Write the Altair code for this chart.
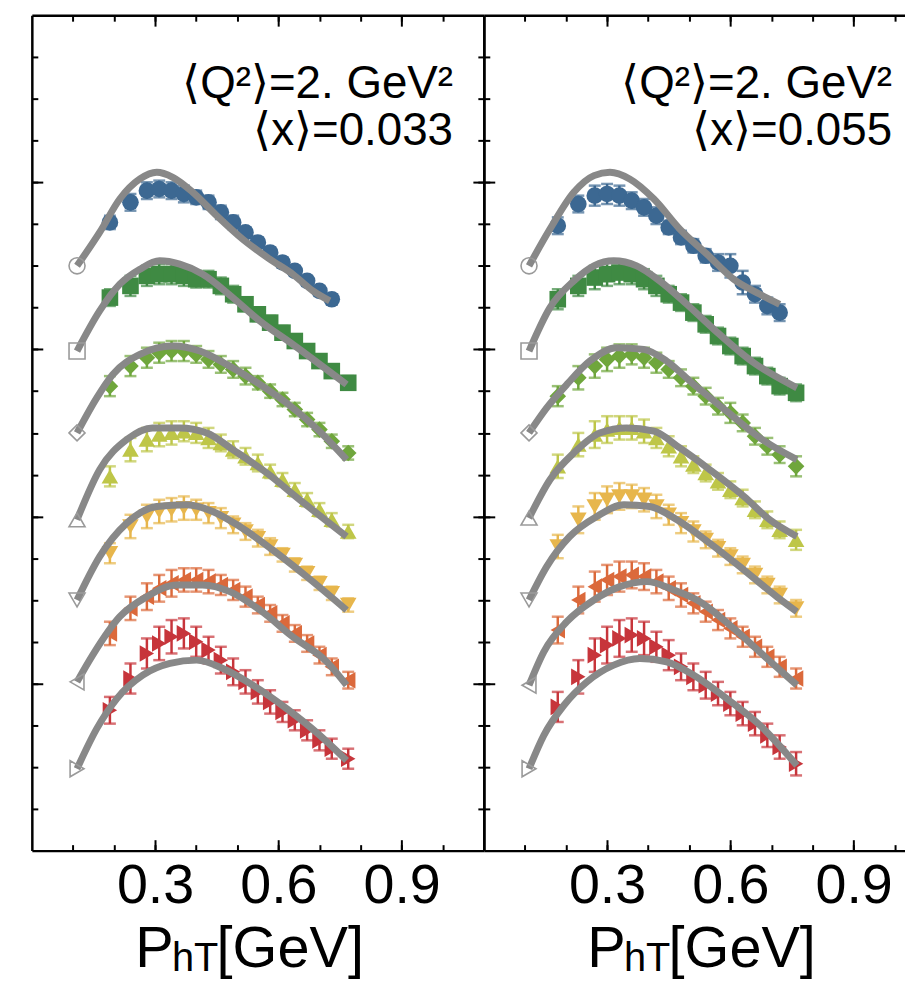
import altair as alt
import pandas as pd

FONT = "Liberation Sans"

SERIES = ["z1", "z2", "z3", "z4", "z5", "z6", "z7"]
COLORS = ["#3c6892", "#3f8a43", "#6fa63c", "#bec648", "#e7b64c", "#db693b", "#c7353b"]
SHAPES = ["circle", "square", "diamond", "triangle-up", "triangle-down",
          "triangle-left", "triangle-right"]

PANELS = ["left", "right"]
ANNOT_Q = ["⟨Q²⟩=2. GeV²", "⟨Q²⟩=2. GeV²"]
ANNOT_X = ["⟨x⟩=0.033", "⟨x⟩=0.055"]
TITLE_MAIN = "P"
TITLE_SUB = "hT"
TITLE_UNIT = "[GeV]"

X_TICKS_MAJOR = [0.3, 0.6, 0.9]
X_TICKS_MINOR = [0.1, 0.2, 0.3, 0.4, 0.5, 0.6, 0.7, 0.8, 0.9, 1.0]
Y_TICKS_MAJOR = [1, 2, 3, 4]
Y_TICKS_MINOR = [0.25, 0.5, 0.75, 1, 1.25, 1.5, 1.75, 2, 2.25, 2.5, 2.75, 3,
                 3.25, 3.5, 3.75, 4, 4.25, 4.5, 4.75]

# ---------------- left panel (<x>=0.033) ----------------
LEFT_DATA_X = [0.19, 0.24, 0.28, 0.31, 0.34, 0.37, 0.40, 0.43, 0.46, 0.49,
               0.52, 0.55, 0.58, 0.61, 0.64, 0.67, 0.70, 0.73, 0.77]
LEFT_DATA_Y = [
    [3.76, 3.88, 3.95, 3.96, 3.95, 3.93, 3.91, 3.88, 3.82, 3.76, 3.70, 3.64, 3.58, 3.52, 3.47, 3.41, 3.35, 3.30],
    [3.31, 3.38, 3.44, 3.45, 3.45, 3.44, 3.42, 3.42, 3.38, 3.33, 3.27, 3.21, 3.16, 3.10, 3.05, 2.99, 2.93, 2.87, 2.80],
    [2.78, 2.90, 2.95, 2.98, 2.99, 2.99, 2.97, 2.94, 2.91, 2.88, 2.84, 2.80, 2.75, 2.70, 2.64, 2.58, 2.52, 2.45, 2.38],
    [2.24, 2.40, 2.46, 2.49, 2.50, 2.51, 2.50, 2.47, 2.44, 2.40, 2.36, 2.32, 2.27, 2.22, 2.16, 2.10, 2.04, 1.98, 1.91],
    [1.78, 1.94, 2.00, 2.03, 2.04, 2.05, 2.04, 2.02, 1.99, 1.95, 1.91, 1.87, 1.82, 1.77, 1.71, 1.66, 1.60, 1.54, 1.47],
    [1.30, 1.45, 1.52, 1.57, 1.60, 1.62, 1.62, 1.61, 1.59, 1.56, 1.52, 1.47, 1.42, 1.36, 1.30, 1.24, 1.17, 1.10, 1.02],
    [0.84, 1.03, 1.18, 1.24, 1.28, 1.30, 1.25, 1.20, 1.14, 1.07, 1.01, 0.95, 0.89, 0.83, 0.78, 0.72, 0.66, 0.61, 0.55],
]
LEFT_DATA_ERR = [
    [0.04, 0.05, 0.05, 0.05, 0.05, 0.05, 0.04, 0.04, 0.04, 0.04, 0.03, 0.03, 0.03, 0.03, 0.03, 0.03, 0.03, 0.03],
    [0.05, 0.06, 0.06, 0.06, 0.06, 0.06, 0.05, 0.05, 0.05, 0.05, 0.04, 0.04, 0.04, 0.04, 0.04, 0.04, 0.04, 0.04, 0.04],
    [0.06, 0.06, 0.06, 0.06, 0.06, 0.06, 0.05, 0.05, 0.05, 0.05, 0.05, 0.04, 0.04, 0.04, 0.04, 0.04, 0.04, 0.04, 0.04],
    [0.06, 0.07, 0.07, 0.07, 0.07, 0.06, 0.06, 0.06, 0.05, 0.05, 0.05, 0.05, 0.04, 0.04, 0.04, 0.04, 0.04, 0.04, 0.04],
    [0.06, 0.07, 0.07, 0.07, 0.07, 0.07, 0.06, 0.06, 0.06, 0.05, 0.05, 0.05, 0.05, 0.04, 0.04, 0.04, 0.04, 0.04, 0.04],
    [0.07, 0.07, 0.08, 0.08, 0.08, 0.07, 0.07, 0.07, 0.06, 0.06, 0.06, 0.05, 0.05, 0.05, 0.05, 0.05, 0.05, 0.05, 0.05],
    [0.08, 0.09, 0.09, 0.10, 0.10, 0.09, 0.09, 0.08, 0.08, 0.08, 0.07, 0.07, 0.07, 0.06, 0.06, 0.06, 0.06, 0.06, 0.06],
]
LEFT_CURVE_X = [
    [0.11, 0.165, 0.214, 0.263, 0.304, 0.343, 0.392, 0.450, 0.513, 0.579, 0.635, 0.684, 0.725],
    [0.11, 0.165, 0.214, 0.263, 0.311, 0.360, 0.416, 0.489, 0.555, 0.635, 0.766],
    [0.11, 0.158, 0.197, 0.263, 0.343, 0.409, 0.474, 0.555, 0.635, 0.700, 0.766],
    [0.11, 0.165, 0.231, 0.294, 0.360, 0.426, 0.489, 0.572, 0.652, 0.766],
    [0.11, 0.165, 0.231, 0.304, 0.377, 0.440, 0.506, 0.586, 0.669, 0.766],
    [0.11, 0.148, 0.214, 0.280, 0.353, 0.416, 0.482, 0.555, 0.635, 0.718, 0.766],
    [0.11, 0.158, 0.207, 0.270, 0.336, 0.401, 0.465, 0.538, 0.620, 0.701, 0.766],
]
LEFT_CURVE_Y = [
    [3.50, 3.70, 3.90, 4.02, 4.06, 4.03, 3.94, 3.80, 3.66, 3.54, 3.45, 3.35, 3.29],
    [2.99, 3.23, 3.39, 3.48, 3.53, 3.51, 3.45, 3.31, 3.17, 3.03, 2.79],
    [2.50, 2.71, 2.85, 2.97, 3.02, 2.99, 2.91, 2.79, 2.65, 2.51, 2.34],
    [1.98, 2.28, 2.46, 2.53, 2.53, 2.50, 2.40, 2.26, 2.10, 1.88],
    [1.50, 1.76, 1.96, 2.06, 2.07, 2.03, 1.94, 1.80, 1.64, 1.44],
    [1.01, 1.17, 1.40, 1.52, 1.59, 1.59, 1.55, 1.44, 1.28, 1.13, 0.99],
    [0.49, 0.73, 0.91, 1.05, 1.12, 1.14, 1.09, 0.99, 0.85, 0.69, 0.54],
]

# ---------------- right panel (<x>=0.055) ----------------
RIGHT_DATA_X = [0.18, 0.23, 0.27, 0.30, 0.33, 0.36, 0.39, 0.42, 0.45, 0.48,
                0.51, 0.54, 0.57, 0.60, 0.63, 0.66, 0.69, 0.72, 0.76]
RIGHT_DATA_Y = [
    [3.74, 3.87, 3.92, 3.93, 3.92, 3.89, 3.85, 3.80, 3.73, 3.67, 3.62, 3.56, 3.52, 3.50, 3.40, 3.33, 3.26, 3.22],
    [3.30, 3.38, 3.43, 3.45, 3.46, 3.45, 3.42, 3.38, 3.33, 3.28, 3.22, 3.15, 3.08, 3.02, 2.96, 2.90, 2.84, 2.78, 2.74],
    [2.72, 2.83, 2.90, 2.94, 2.96, 2.97, 2.95, 2.92, 2.88, 2.83, 2.78, 2.72, 2.66, 2.62, 2.56, 2.48, 2.42, 2.37, 2.30],
    [2.30, 2.43, 2.49, 2.52, 2.53, 2.53, 2.51, 2.47, 2.42, 2.36, 2.31, 2.26, 2.21, 2.16, 2.11, 2.04, 1.98, 1.92, 1.86],
    [1.82, 1.98, 2.06, 2.10, 2.12, 2.12, 2.10, 2.06, 2.01, 1.96, 1.91, 1.86, 1.81, 1.76, 1.71, 1.65, 1.59, 1.53, 1.45],
    [1.32, 1.50, 1.58, 1.62, 1.64, 1.65, 1.64, 1.61, 1.57, 1.53, 1.48, 1.43, 1.38, 1.33, 1.28, 1.22, 1.16, 1.10, 1.03],
    [0.86, 1.04, 1.17, 1.23, 1.27, 1.29, 1.27, 1.22, 1.17, 1.10, 1.04, 0.99, 0.94, 0.88, 0.82, 0.76, 0.69, 0.62, 0.52],
]
RIGHT_DATA_ERR = [
    [0.05, 0.05, 0.06, 0.06, 0.06, 0.05, 0.05, 0.05, 0.04, 0.04, 0.04, 0.04, 0.05, 0.07, 0.07, 0.05, 0.05, 0.05],
    [0.06, 0.06, 0.07, 0.07, 0.07, 0.06, 0.06, 0.06, 0.05, 0.05, 0.05, 0.05, 0.05, 0.05, 0.05, 0.05, 0.05, 0.05, 0.05],
    [0.06, 0.07, 0.07, 0.07, 0.07, 0.06, 0.06, 0.06, 0.05, 0.05, 0.05, 0.05, 0.05, 0.06, 0.05, 0.05, 0.05, 0.05, 0.06],
    [0.07, 0.07, 0.08, 0.08, 0.07, 0.07, 0.07, 0.06, 0.06, 0.06, 0.05, 0.05, 0.05, 0.05, 0.05, 0.05, 0.05, 0.05, 0.06],
    [0.07, 0.08, 0.08, 0.08, 0.08, 0.07, 0.07, 0.07, 0.06, 0.06, 0.06, 0.05, 0.05, 0.05, 0.05, 0.05, 0.05, 0.05, 0.05],
    [0.08, 0.08, 0.09, 0.09, 0.09, 0.08, 0.08, 0.07, 0.07, 0.07, 0.06, 0.06, 0.06, 0.06, 0.06, 0.06, 0.06, 0.06, 0.06],
    [0.09, 0.10, 0.10, 0.11, 0.11, 0.10, 0.10, 0.09, 0.09, 0.08, 0.08, 0.08, 0.07, 0.07, 0.07, 0.07, 0.07, 0.07, 0.07],
]
RIGHT_CURVE_X = [
    [0.11, 0.161, 0.219, 0.268, 0.307, 0.355, 0.414, 0.477, 0.543, 0.608, 0.672, 0.720],
    [0.11, 0.161, 0.219, 0.268, 0.316, 0.372, 0.428, 0.494, 0.560, 0.657, 0.762],
    [0.11, 0.153, 0.202, 0.258, 0.324, 0.389, 0.445, 0.511, 0.591, 0.672, 0.762],
    [0.11, 0.161, 0.219, 0.282, 0.348, 0.414, 0.477, 0.550, 0.633, 0.696, 0.762],
    [0.11, 0.153, 0.209, 0.275, 0.341, 0.404, 0.470, 0.550, 0.633, 0.713, 0.762],
    [0.11, 0.146, 0.202, 0.268, 0.331, 0.397, 0.462, 0.526, 0.608, 0.689, 0.762],
    [0.11, 0.146, 0.195, 0.251, 0.316, 0.380, 0.445, 0.511, 0.591, 0.672, 0.762],
]
RIGHT_CURVE_Y = [
    [3.50, 3.72, 3.94, 4.04, 4.06, 4.02, 3.90, 3.72, 3.57, 3.42, 3.33, 3.27],
    [2.99, 3.25, 3.41, 3.50, 3.53, 3.50, 3.41, 3.27, 3.12, 2.92, 2.77],
    [2.50, 2.65, 2.79, 2.93, 3.01, 3.00, 2.93, 2.79, 2.63, 2.47, 2.34],
    [1.99, 2.22, 2.38, 2.50, 2.53, 2.51, 2.41, 2.28, 2.12, 1.98, 1.88],
    [1.50, 1.70, 1.88, 2.00, 2.07, 2.06, 1.98, 1.84, 1.68, 1.52, 1.43],
    [0.99, 1.19, 1.37, 1.50, 1.58, 1.61, 1.56, 1.49, 1.33, 1.15, 0.99],
    [0.49, 0.69, 0.87, 1.01, 1.11, 1.15, 1.13, 1.05, 0.91, 0.75, 0.51],
]

DATA_X = [LEFT_DATA_X, RIGHT_DATA_X]
DATA_Y = [LEFT_DATA_Y, RIGHT_DATA_Y]
DATA_ERR = [LEFT_DATA_ERR, RIGHT_DATA_ERR]
CURVE_X = [LEFT_CURVE_X, RIGHT_CURVE_X]
CURVE_Y = [LEFT_CURVE_Y, RIGHT_CURVE_Y]

# ---------------- tables ----------------
pt_rows, cv_rows, st_rows = [], [], []
for p, pname in enumerate(PANELS):
    for s, sname in enumerate(SERIES):
        ys = DATA_Y[p][s]
        for k, yv in enumerate(ys):
            e = DATA_ERR[p][s][k]
            pt_rows.append({"panel": pname, "series": sname, "x": DATA_X[p][k],
                            "y": yv, "lo": yv - e, "hi": yv + e})
        for xv, yv in zip(CURVE_X[p][s], CURVE_Y[p][s]):
            cv_rows.append({"panel": pname, "series": sname, "x": xv, "y": yv})
        st_rows.append({"panel": pname, "series": sname,
                        "x": CURVE_X[p][s][0], "y": CURVE_Y[p][s][0]})
pts_df = pd.DataFrame(pt_rows)
cur_df = pd.DataFrame(cv_rows)
st_df = pd.DataFrame(st_rows)

# layout: both panels share the same px-per-unit; the right one is cut at the page edge
W_LEFT, W_RIGHT, H = 455, 424, 841
X_MAX = [1.1, 1.1 * W_RIGHT / W_LEFT]
WIDTHS = [W_LEFT, W_RIGHT]
MAJ, MIN = 11, 6
FRAME_W = 2.5


def sx(i):
    return alt.Scale(domain=[0, X_MAX[i]], nice=False, zero=False)


def sy():
    return alt.Scale(domain=[0, 5], nice=False, zero=False)


def axis(orient, values, size, labels=False):
    kw = dict(orient=orient, values=values, tickSize=size, offset=-size,
              domain=False, grid=False, ticks=True, tickColor="black",
              tickWidth=2, title=None, labels=labels)
    if labels:
        kw.update(format=".1f", labelFont=FONT, labelFontSize=56,
                  labelColor="black", labelPadding=8, labelOverlap=False,
                  labelFlush=False)
    return alt.Axis(**kw)


def frame_axis(orient):
    return alt.Axis(orient=orient, domain=True, domainColor="black",
                    domainWidth=FRAME_W, ticks=False, labels=False, grid=False,
                    title=None, values=[0])


color = alt.Color("series:N", scale=alt.Scale(domain=SERIES, range=COLORS), legend=None)
shape = alt.Shape("series:N", scale=alt.Scale(domain=SERIES, range=SHAPES), legend=None)


def panel(i):
    pname = PANELS[i]
    pts = pts_df[pts_df.panel == pname]
    cur = cur_df[cur_df.panel == pname]
    st = st_df[st_df.panel == pname]
    left = i == 0

    rules = alt.Chart(pts).mark_rule(strokeWidth=2.5).encode(
        x=alt.X("x:Q", scale=sx(i), axis=axis("bottom", X_TICKS_MAJOR, MAJ, True)),
        y=alt.Y("lo:Q", scale=sy(), axis=axis("left", Y_TICKS_MAJOR, MAJ)),
        y2="hi:Q", color=color)
    caps_lo = alt.Chart(pts).mark_tick(orient="horizontal", size=12, thickness=2.5).encode(
        x=alt.X("x:Q", scale=sx(i), axis=axis("bottom", X_TICKS_MINOR, MIN)),
        y=alt.Y("lo:Q", scale=sy(), axis=axis("left", Y_TICKS_MINOR, MIN)),
        color=color)
    caps_hi = alt.Chart(pts).mark_tick(orient="horizontal", size=12, thickness=2.5).encode(
        x=alt.X("x:Q", scale=sx(i), axis=axis("top", X_TICKS_MAJOR, MAJ)),
        y=alt.Y("hi:Q", scale=sy(),
                axis=axis("right", Y_TICKS_MAJOR, MAJ) if left else None),
        color=color)
    points = alt.Chart(pts).mark_point(filled=True, size=280, opacity=1).encode(
        x=alt.X("x:Q", scale=sx(i), axis=axis("top", X_TICKS_MINOR, MIN)),
        y=alt.Y("y:Q", scale=sy(),
                axis=axis("right", Y_TICKS_MINOR, MIN) if left else None),
        color=color, shape=shape)
    curves = alt.Chart(cur).mark_line(color="#888888", strokeWidth=7,
                                      interpolate="monotone").encode(
        x=alt.X("x:Q", scale=sx(i), axis=frame_axis("bottom")),
        y=alt.Y("y:Q", scale=sy(), axis=frame_axis("left")),
        detail="series:N")
    starts = alt.Chart(st).mark_point(filled=False, color="#9a9a9a", strokeWidth=1.6,
                                      size=260, opacity=1).encode(
        x=alt.X("x:Q", scale=sx(i), axis=frame_axis("top")),
        y=alt.Y("y:Q", scale=sy(), axis=frame_axis("right") if left else None),
        shape=shape)

    ann_x = 424 if left else 411
    txt = pd.DataFrame({"q": [ANNOT_Q[i]], "xx": [ANNOT_X[i]],
                        "m": [TITLE_MAIN], "s": [TITLE_SUB], "u": [TITLE_UNIT]})
    ann1 = alt.Chart(txt).mark_text(align="right", baseline="alphabetic", font=FONT,
                                    fontSize=46, color="black").encode(
        text="q:N", x=alt.value(ann_x), y=alt.value(83))
    ann2 = alt.Chart(txt).mark_text(align="right", baseline="alphabetic", font=FONT,
                                    fontSize=46, color="black").encode(
        text="xx:N", x=alt.value(ann_x), y=alt.value(131))
    t_main = alt.Chart(txt).mark_text(align="left", baseline="alphabetic", font=FONT,
                                      fontSize=58, color="black").encode(
        text="m:N", x=alt.value(104), y=alt.value(958))
    t_sub = alt.Chart(txt).mark_text(align="left", baseline="alphabetic", font=FONT,
                                     fontSize=40, color="black").encode(
        text="s:N", x=alt.value(141), y=alt.value(962))
    t_unit = alt.Chart(txt).mark_text(align="left", baseline="alphabetic", font=FONT,
                                      fontSize=58, color="black").encode(
        text="u:N", x=alt.value(186), y=alt.value(958))

    return alt.layer(rules, caps_lo, caps_hi, points, curves, starts,
                     ann1, ann2, t_main, t_sub, t_unit).resolve_axis(
        x="independent", y="independent").properties(width=WIDTHS[i], height=H)


chart = alt.hconcat(panel(0), panel(1), spacing=0, bounds="flush").properties(
    padding={"left": 23, "top": 3, "right": 0, "bottom": 0}
).configure_view(stroke="transparent", strokeWidth=0)

chart.save("out.html", embed_options={"renderer": "svg", "actions": False})
